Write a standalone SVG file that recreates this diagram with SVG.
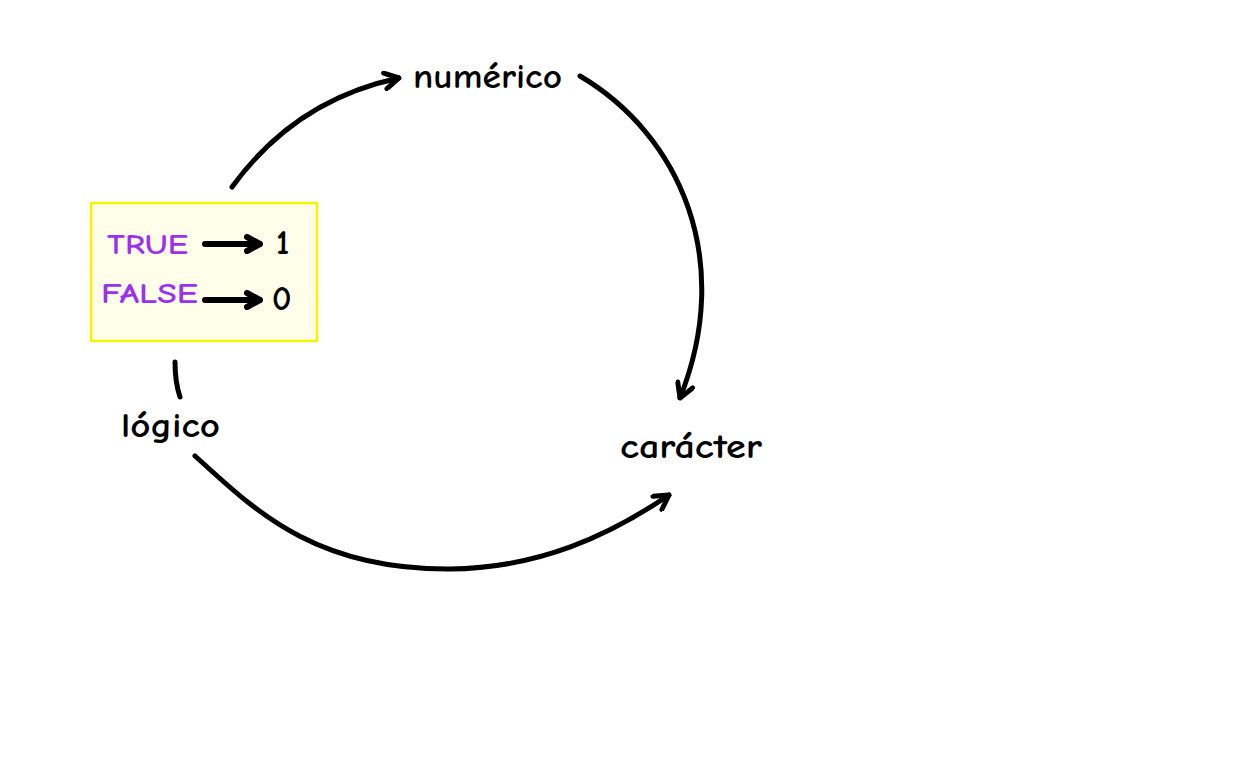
<svg xmlns="http://www.w3.org/2000/svg" width="1248" height="768" viewBox="0 0 1248 768">
<defs>
<style>
.lbl{font-family:"Comic Neue","Noto Sans","Liberation Sans",sans-serif;font-size:34px;font-weight:700;fill:#000;}
.pur{font-family:"Comic Neue","Noto Sans","Liberation Sans",sans-serif;font-size:28px;fill:#9b30f0;font-weight:700;}
.con{fill:none;stroke:#000;stroke-width:5;stroke-linecap:round;stroke-linejoin:round;}
.con2{fill:none;stroke:#000;stroke-width:6;stroke-linecap:round;stroke-linejoin:round;}
</style>
<marker id="ah" viewBox="0 0 20 20" refX="18" refY="10" markerWidth="20" markerHeight="20" markerUnits="userSpaceOnUse" orient="auto">
<path d="M4,2 L18,10 L4,18" fill="none" stroke="#000" stroke-width="5" stroke-linecap="round" stroke-linejoin="round"/>
</marker>
<marker id="ah2" viewBox="0 0 20 20" refX="18" refY="10" markerWidth="20" markerHeight="20" markerUnits="userSpaceOnUse" orient="auto">
<path d="M5,3 L18,10 L5,17" fill="none" stroke="#000" stroke-width="6" stroke-linecap="round" stroke-linejoin="round"/>
</marker>
</defs>
<rect width="1248" height="768" fill="#fff"/>
<g id="box">
<rect x="91" y="203" width="226" height="138" fill="#fffee8" stroke="#f5f500" stroke-width="2.5"/>
<text class="pur" x="107" y="254" textLength="81" lengthAdjust="spacingAndGlyphs">TRUE</text>
<text class="pur" x="101" y="303" textLength="97" lengthAdjust="spacingAndGlyphs">FALSE</text>
<text class="lbl" x="276" y="254" font-size="27">1</text>
<text class="lbl" x="272" y="310" font-size="27">0</text>
</g>
<g id="numerico"><text class="lbl" x="413" y="88" textLength="149" lengthAdjust="spacingAndGlyphs">numérico</text></g>
<g id="caracter"><text class="lbl" x="620" y="458" textLength="142" lengthAdjust="spacingAndGlyphs">carácter</text></g>
<g id="logico"><text class="lbl" x="121" y="437" textLength="99" lengthAdjust="spacingAndGlyphs">lógico</text></g>
<g id="connectors">
<path class="con2" d="M205,244 L260,244" marker-end="url(#ah2)"/>
<path class="con2" d="M205,300 L260,300" marker-end="url(#ah2)"/>
<path class="con" d="M232,187 Q295,100 399,78" marker-end="url(#ah)"/>
<path class="con" d="M580,76 C680,135 735,260 680,398" marker-end="url(#ah)"/>
<path class="con" d="M175,362 Q175,382 180,397"/>
<path class="con" d="M195,456 C250,505 310,570 450,569 C540,568 610,535 669,495" marker-end="url(#ah)"/>
</g>
</svg>
